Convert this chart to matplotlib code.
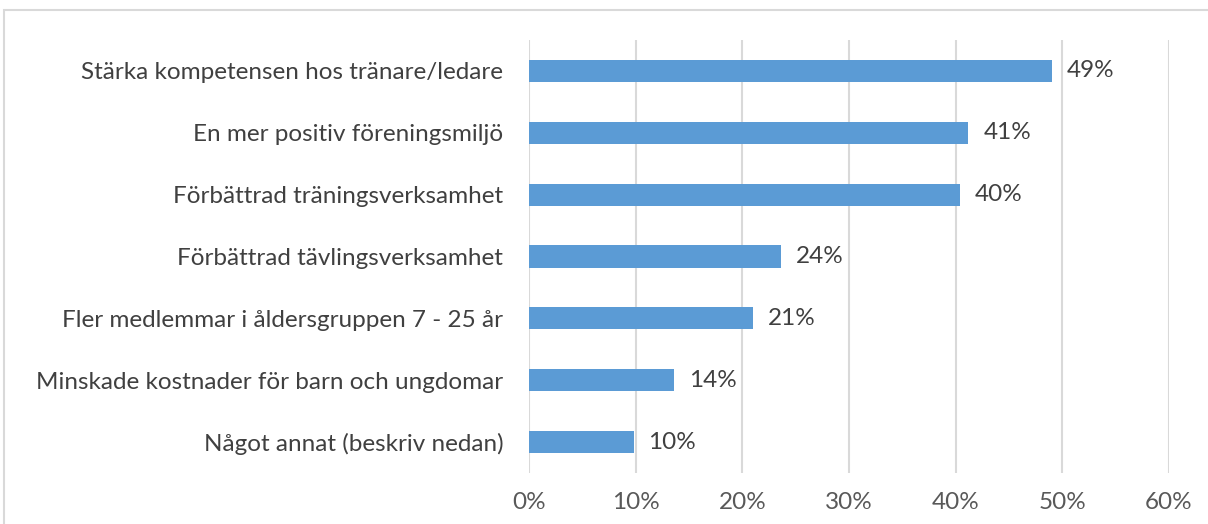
import matplotlib
matplotlib.use("Agg")
import matplotlib.pyplot as plt
from matplotlib.patches import Rectangle
from matplotlib.ticker import FuncFormatter

categories = [
    "Stärka kompetensen hos tränare/ledare",
    "En mer positiv föreningsmiljö",
    "Förbättrad träningsverksamhet",
    "Förbättrad tävlingsverksamhet",
    "Fler medlemmar i åldersgruppen 7 - 25 år",
    "Minskade kostnader för barn och ungdomar",
    "Något annat (beskriv nedan)",
]
values = [49.0, 41.2, 40.4, 23.6, 21.0, 13.6, 9.8]
value_labels = ["49%", "41%", "40%", "24%", "21%", "14%", "10%"]
x_ticks = [0, 10, 20, 30, 40, 50, 60]

plt.rcParams['font.family'] = ['Lato', 'DejaVu Sans']
FS = 17.5

fig = plt.figure(figsize=(12.08, 5.24), dpi=100)
ax = fig.add_axes([529/1208, 1-473/524, (1169-529)/1208, (473-40)/524])

bar_color = "#5B9BD5"
ypos = list(range(len(categories)))
ax.barh(ypos, values, height=0.36, color=bar_color, zorder=3)
ax.set_ylim(len(categories)-0.5, -0.5)
ax.set_xlim(0, 60)
ax.set_xticks(x_ticks)
ax.xaxis.set_major_formatter(FuncFormatter(lambda v, p: f"{v:.0f}%"))
ax.set_yticks(ypos)
ax.set_yticklabels(categories, fontsize=FS, color="#404040")
ax.tick_params(axis='y', length=0, pad=18.5)
ax.tick_params(axis='x', length=0, pad=14, labelsize=FS, labelcolor="#595959")
ax.grid(axis='x', color="#D9D9D9", linewidth=1.5, zorder=0)
for s in ax.spines.values():
    s.set_visible(False)

for y, v, lab in zip(ypos, values, value_labels):
    ax.annotate(lab, (v, y), xytext=(15, 0), textcoords="offset pixels",
                va="center", ha="left", fontsize=FS, color="#404040")

fig.patches.append(Rectangle((4/1208, -0.1), 1.2, 1-10/524+0.1, transform=fig.transFigure,
                             fill=False, edgecolor="#D9D9D9", linewidth=1.5, figure=fig))

fig.savefig("out.png", dpi=100)
